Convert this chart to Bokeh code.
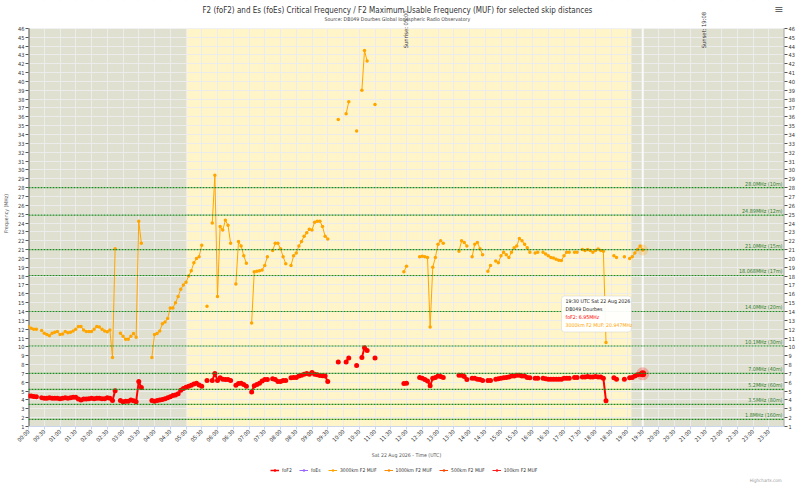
import math
import numpy as np
from bokeh.plotting import figure
from bokeh.layouts import column
from bokeh.models import (FixedTicker, LinearAxis, Range1d, Span, Label, Legend,
                          LegendItem, BoxAnnotation)
from bokeh.embed import file_html
from bokeh.resources import INLINE

# ---------------- texts ----------------
TITLE = "F2 (foF2) and Es (foEs) Critical Frequency / F2 Maximum Usable Frequency (MUF) for selected skip distances"
SUBTITLE = "Source: DB049 Dourbes Global Ionospheric Radio Observatory"
X_TITLE = "Sat 22 Aug 2026 - Time (UTC)"
Y_TITLE = "Frequency (MHz)"
CREDIT = "Highcharts.com"

# ---------------- data (5-minute soundings from 00:00, one row per hour) ----------------
STEP_MIN = 5
N = None
FOF2 = [
    4.45, 4.45, 4.4, 4.35, N, 4.25, 4.2, 4.2, 4.25, 4.2, 4.2, 4.2,          # 00
    4.15, 4.2, 4.25, 4.2, 4.25, 4.3, 4.3, 4.1, 4.0, 4.1, 4.1, 4.15,         # 01
    4.2, 4.15, 4.2, 4.2, 4.15, 4.15, 4.25, 4.2, 3.95, 5.05, N, 3.95,        # 02
    3.8, 3.85, 3.85, 4.0, 3.9, 3.8, 6.1, 5.4, N, N, N, 3.95,                # 03
    3.85, 3.95, 4.0, 4.05, 4.15, 4.25, 4.35, 4.5, 4.55, 4.7, 5.1, 5.3,      # 04
    5.45, 5.55, 5.65, 5.8, 5.9, 5.7, 5.55, N, 6.2, N, 6.2, 7.0,             # 05
    6.2, 6.5, 6.35, 6.3, 6.3, 6.2, N, 5.65, 5.85, 5.9, 5.75, 5.55,          # 06
    N, 4.9, 5.6, 5.75, 5.9, 6.15, 6.3, 6.3, N, 6.4, 6.3, 6.1,               # 07
    6.1, 6.2, 6.2, N, 6.5, 6.55, 6.55, 6.7, 6.8, 6.9, 7.0, 6.9,             # 08
    7.1, 6.9, 6.85, 6.75, 6.75, 6.7, 6.1, N, N, N, 8.3, N,                  # 09
    N, 8.3, 8.75, N, N, 7.9, N, 8.8, 9.9, 9.6, N, N,                        # 10
    8.75, N, N, N, N, N, N, N, N, N, N, 5.85,                               # 11
    5.9, N, N, N, N, 6.55, 6.45, 6.3, 6.15, 5.6, 6.45, 6.55,                # 12
    6.7, 6.65, 6.55, N, N, N, N, N, 6.8, 6.8, 6.65, 6.3,                    # 13
    N, 6.45, 6.45, 6.35, 6.3, 6.2, N, 6.2, 6.2, N, 6.35, 6.4,               # 14
    6.45, 6.5, 6.55, 6.6, 6.7, 6.7, 6.8, 6.8, 6.7, 6.7, 6.55, 6.5,          # 15
    N, 6.45, 6.45, N, 6.45, 6.4, 6.35, 6.35, 6.35, 6.35, 6.35, 6.35,        # 16
    6.45, 6.45, 6.45, N, 6.55, 6.55, N, 6.6, 6.6, 6.65, 6.6, 6.6,           # 17
    6.65, 6.6, 6.6, 6.45, 3.9, N, N, 6.5, 6.35, N, N, 6.35,                 # 18
    N, 6.5, 6.55, 6.7, 6.85, 6.9, 6.95,                                     # 19
]
MUF_3000 = [
    12.3, 12.1, 12.0, 12.0, N, 11.85, 11.55, 11.4, 11.25, 11.55, 11.65, 11.75,   # 00
    11.4, 11.45, 11.75, 11.6, 11.65, 11.8, 12.0, 12.3, 12.3, 11.9, 11.75, 11.75, # 01
    11.75, 12.0, 12.3, 12.25, 12.0, 11.8, 11.7, 11.9, 8.8, 21.1, N, 11.55,       # 02
    11.2, 10.85, 10.85, 11.2, 11.5, 11.1, 24.2, 21.7, N, N, N, 8.8,              # 03
    11.4, 11.5, 11.8, 12.6, 12.8, 13.2, 14.4, 14.4, 15.0, 15.7, 16.5, 17.0,      # 04
    17.3, 18.0, 18.6, 19.5, 20.0, 20.2, 21.5, N, 14.6, N, 24.0, 29.4,            # 05
    15.7, 23.6, 23.2, 24.3, 23.75, 21.7, N, 17.1, 21.9, 21.4, 20.3, 19.45,       # 06
    N, 12.7, 18.5, 18.55, 18.6, 18.7, 19.2, 20.2, N, 20.9, 21.7, 21.7,           # 07
    21.1, 20.2, 19.4, N, 19.2, 20.3, 20.6, 21.4, 21.9, 22.5, 22.9, 23.3,         # 08
    23.2, 24.1, 24.2, 24.2, 23.6, 22.5, 22.2, N, N, N, 35.7, N,                  # 09
    N, 36.35, 37.7, N, N, 34.4, N, 39.0, 43.5, 42.3, N, N,                       # 10
    37.4, N, N, N, N, N, N, N, N, N, N, 18.5,                                    # 11
    19.1, N, N, N, N, 20.2, 20.25, 20.2, 20.1, 12.25, 19.0, 20.1,                # 12
    21.6, 22.0, 21.7, N, N, N, N, N, 20.8, 22.0, 21.8, 21.4,                     # 13
    N, 20.2, 21.6, 21.8, 21.1, 20.4, N, 18.55, 19.2, N, 19.7, 19.5,              # 14
    20.3, 20.7, 20.4, 20.1, 20.7, 21.2, 21.4, 22.25, 22.0, 21.6, 21.2, 20.7,     # 15
    N, 20.6, 20.7, N, 20.7, 20.5, 20.3, 20.1, 20.05, 19.9, 19.8, 19.75,          # 16
    20.3, 20.7, 20.7, N, 20.7, 20.7, N, 21.0, 20.9, 21.0, 20.9, 20.7,            # 17
    20.9, 21.05, 20.9, 20.8, 10.5, N, N, 20.3, 20.1, N, N, 20.2,                 # 18
    N, 20.0, 20.2, 20.6, 21.0, 21.4, 20.947,                                     # 19
]

BAND_FREQS = [28.0, 24.89, 21.0, 18.068, 14.0, 10.1, 7.0, 5.2, 3.5, 1.8]
BAND_LABELS = ["28.0MHz (10m)", "24.89MHz (12m)", "21.0MHz (15m)", "18.068MHz (17m)",
               "14.0MHz (20m)", "10.1MHz (30m)", "7.0MHz (40m)", "5.2MHz (60m)",
               "3.5MHz (80m)", "1.8MHz (160m)"]

SUNRISE = "05:00"
SUNSET = "19:08"
SUN_LABELS = ["Sunrise: 05:00", "Sunset: 19:08"]

X_TICKS = [i / 2 for i in range(48)]
X_TICK_LABELS = ["%02d:%02d" % (int(t), 30 if t % 1 else 0) for t in X_TICKS]
Y_TICKS = list(range(1, 47))
Y_MIN, Y_MAX = 1, 46

SERIES_NAMES = ["foF2", "foEs", "3000km F2 MUF", "1000km F2 MUF", "500km F2 MUF", "100km F2 MUF"]
SERIES_COLORS = ["#ff0000", "#9966ff", "#ffa500", "#ff8c00", "#ff4500", "#ff1a1a"]

TOOLTIP_HEAD = ["19:30 UTC Sat 22 Aug 2026", "DB049 Dourbes"]

FONT = "DejaVu Sans Condensed, Roboto, sans-serif"
TOP_PAD = 3.15  # headroom above the axis (title area), in MHz units


def hours(s):
    h, m = s.split(":")
    return int(h) + int(m) / 60.0


t_fof2 = np.arange(len(FOF2)) * STEP_MIN / 60.0
t_muf = np.arange(len(MUF_3000)) * STEP_MIN / 60.0
y_fof2 = np.array([np.nan if v is None else v for v in FOF2], dtype=float)
y_muf = np.array([np.nan if v is None else v for v in MUF_3000], dtype=float)
YTOP = Y_MAX + TOP_PAD

p = figure(width=800, height=460, x_range=Range1d(0, 24), y_range=Range1d(Y_MIN, YTOP),
           output_backend="svg", toolbar_location=None,
           min_border_left=28, min_border_right=16, min_border_top=0, min_border_bottom=32)
p.outline_line_color = None
p.background_fill_color = "white"
p.border_fill_color = "white"

# day / night bands
p.quad(left=[0, hours(SUNSET)], right=[hours(SUNRISE), 24], bottom=Y_MIN, top=Y_MAX,
       fill_color="#e0e0d1", line_color=None, level="image")
p.quad(left=[hours(SUNRISE)], right=[hours(SUNSET)], bottom=Y_MIN, top=Y_MAX,
       fill_color="#fff5c9", line_color=None, level="image")

# grids
p.xgrid.ticker = FixedTicker(ticks=X_TICKS)
p.ygrid.ticker = FixedTicker(ticks=Y_TICKS)
p.grid.grid_line_color = "#ececec"
p.grid.grid_line_width = 1

# white title area above the plot
p.quad(left=[0], right=[24], bottom=[Y_MAX], top=[YTOP], fill_color="white", line_color=None)

# axes
for ax in [p.xaxis[0], p.yaxis[0]]:
    ax.major_label_text_font = FONT
    ax.axis_label_text_font = FONT
    ax.major_label_text_font_size = "5.6px"
    ax.axis_label_text_font_size = "5.2px"
    ax.axis_label_text_font_style = "normal"
    ax.major_label_text_color = "#333333"
    ax.axis_label_text_color = "#555555"
    ax.minor_tick_line_color = None
    ax.major_tick_in = 0
    ax.major_tick_out = 3
    ax.major_label_standoff = 1

p.xaxis.ticker = FixedTicker(ticks=X_TICKS)
p.xaxis.major_label_overrides = {t: lab for t, lab in zip(X_TICKS, X_TICK_LABELS)}
p.xaxis.major_label_orientation = math.pi / 4
p.xaxis.axis_label = X_TITLE
p.xaxis.axis_label_standoff = 4
p.xaxis.axis_line_color = "#ccd6eb"
p.xaxis.major_tick_line_color = "#ccd6eb"

p.yaxis.ticker = FixedTicker(ticks=Y_TICKS)
p.yaxis.axis_label = Y_TITLE
p.yaxis.axis_label_standoff = 6
p.yaxis.axis_line_color = None
p.yaxis.major_tick_line_color = "#555555"

ry = LinearAxis(ticker=FixedTicker(ticks=Y_TICKS))
ry.major_label_text_font = FONT
ry.major_label_text_font_size = "5.6px"
ry.major_label_text_color = "#333333"
ry.minor_tick_line_color = None
ry.major_tick_in = 0
ry.major_tick_out = 3
ry.major_label_standoff = 1
ry.axis_line_color = None
ry.major_tick_line_color = "#555555"
p.add_layout(ry, "right")

# axis lines only along the plotted frequency span
p.segment(x0=[0, 24], y0=[Y_MIN, Y_MIN], x1=[0, 24], y1=[Y_MAX, Y_MAX],
          line_color=["#555555", "#aaaaaa"], line_width=2)

# amateur band lines
for f, lab in zip(BAND_FREQS, BAND_LABELS):
    p.add_layout(Span(location=f, dimension="width", line_color="#1e8a1e",
                      line_dash="2 1", line_width=1.2))
    p.add_layout(Label(x=24, y=f, text=lab, text_align="right", text_baseline="bottom",
                       x_offset=-2, y_offset=1, text_font=FONT,
                       text_font_size="5.4px", text_color="#2e7d2e"))

# crosshair at the hovered sample
p.segment(x0=[t_muf[-1]], y0=[Y_MIN], x1=[t_muf[-1]], y1=[Y_MAX], line_color="#fafafa", line_width=2)

# series
r_f_line = p.line(t_fof2, y_fof2, line_color=SERIES_COLORS[0], line_width=2)
r_f_pts = p.scatter(t_fof2, y_fof2, size=5, fill_color=SERIES_COLORS[0], line_color=None)
r_m_line = p.line(t_muf, y_muf, line_color=SERIES_COLORS[2], line_width=1)
r_m_pts = p.scatter(t_muf, y_muf, size=3.5, fill_color=SERIES_COLORS[2], line_color=None)

# hover halos
p.scatter([t_fof2[-1]], [y_fof2[-1]], size=13, fill_color=SERIES_COLORS[0], fill_alpha=0.25, line_color=None)
p.scatter([t_fof2[-1]], [y_fof2[-1]], size=7, fill_color=SERIES_COLORS[0], line_color=None)
p.scatter([t_muf[-1]], [y_muf[-1]], size=11, fill_color=SERIES_COLORS[2], fill_alpha=0.25, line_color=None)

# tooltip
tx = t_muf[-1]
box = BoxAnnotation(left=tx - 2.58, right=tx - 0.36, bottom=11.69, top=15.74,
                    fill_color="white", fill_alpha=0.94, line_color="#bbbbbb",
                    line_width=1, border_radius=3)
p.add_layout(box)
tip_lines = TOOLTIP_HEAD + ["foF2: %sMHz" % FOF2[-1], "3000km F2 MUF: %sMHz" % MUF_3000[-1]]
tip_cols = ["#222222", "#222222", SERIES_COLORS[0], SERIES_COLORS[2]]
for k, (txt, col) in enumerate(zip(tip_lines, tip_cols)):
    p.add_layout(Label(x=tx - 2.45, y=15.17 - k * 0.9, text=txt, text_baseline="middle",
                       text_font=FONT, text_font_size="5.2px", text_color=col))

# sunrise / sunset labels
for xx, lab in zip([11.97, 21.43], SUN_LABELS):
    p.add_layout(Label(x=xx, y=43.75, text=lab, angle=math.pi / 2, text_align="left",
                       text_baseline="middle", text_font=FONT,
                       text_font_size="5.8px", text_color="#333333"))

# title / subtitle / menu
p.add_layout(Label(x=11.71, y=48.03, text=TITLE, text_align="center", text_baseline="middle",
                   text_font=FONT, text_font_size="8px", text_color="#333333"))
p.add_layout(Label(x=11.71, y=47.01, text=SUBTITLE, text_align="center", text_baseline="middle",
                   text_font=FONT, text_font_size="5.2px", text_color="#444444"))
p.add_layout(Label(x=24, y=48.15, text="\u2261", text_align="right", text_baseline="middle",
                   x_offset=-1, text_font="DejaVu Sans", text_font_size="11px", text_color="#666666"))

# ---------------- legend strip ----------------
lg = figure(width=800, height=24, x_range=Range1d(0, 800), y_range=Range1d(0, 24),
            output_backend="svg", toolbar_location=None, min_border=0)
lg.axis.visible = False
lg.grid.visible = False
lg.outline_line_color = None
lg.background_fill_color = "white"
lg.border_fill_color = "white"
items = []
for i, (name, col) in enumerate(zip(SERIES_NAMES, SERIES_COLORS)):
    rs = [lg.line([-20, -10], [-20, -20], line_color=col, line_width=1.5 if i == 0 else 1),
          lg.scatter([-15], [-20], size=4 if i == 0 else 3.5, fill_color=col, line_color=None)]
    items.append(LegendItem(label=name, renderers=rs))
legend = Legend(items=items, orientation="horizontal", location=(242, 11),
                label_text_font=FONT, label_text_font_size="5px", label_text_color="#333333",
                glyph_width=9, glyph_height=6, spacing=7, padding=0, margin=0,
                border_line_color=None, background_fill_alpha=0, label_standoff=3,
                label_height=6, label_width=10)
lg.add_layout(legend)
lg.add_layout(Label(x=797, y=2, text=CREDIT, text_align="right", text_baseline="bottom",
                    text_font=FONT, text_font_size="4.5px", text_color="#999999"))

open("out.html", "w").write(file_html(column(p, lg, spacing=0), INLINE))
